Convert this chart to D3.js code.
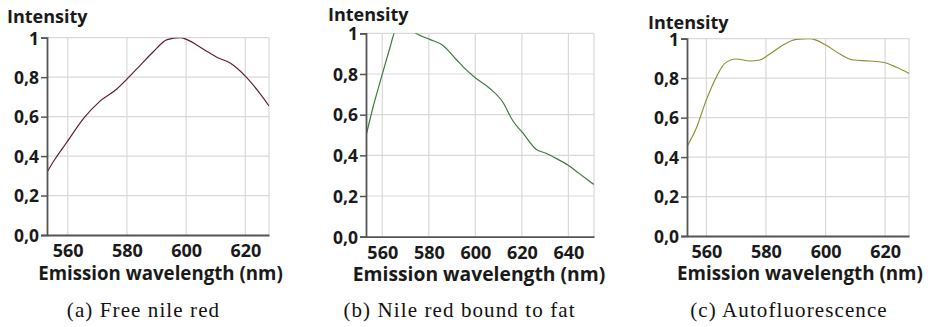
<!DOCTYPE html>
<html>
<head>
<meta charset="utf-8">
<script src="https://cdn.jsdelivr.net/npm/d3@7"></script>
<style>
  body { margin: 0; background: #fff; }
  svg { display: block; }
  .tick text { font-family: "Open Sans", sans-serif; font-weight: 700; fill: #1a1a1a; }
</style>
</head>
<body>
<div id="container"></div>
<script>
// Emission spectra
const wavelengthA = [553, 555.5, 559.7, 565.3, 571, 576.6, 580, 584.5, 589, 593.6, 598, 600.3, 606, 610.5, 615, 620, 624, 628];
const intensityA  = [0.318, 0.38, 0.47, 0.59, 0.68, 0.74, 0.79, 0.86, 0.93, 0.99, 1.0, 0.99, 0.94, 0.90, 0.87, 0.805, 0.735, 0.654];

const wavelengthB = [553, 556.1, 559.7, 563.3, 565.1, 569, 574.4, 580.4, 586.1, 591.9, 596.1, 600.1, 606.1, 611.9, 616.1, 620.4, 626.1, 630.4, 634.7, 640.1, 644.7, 650.9];
const intensityB  = [0.495, 0.64, 0.787, 0.93, 1.0, 1.05, 1.0, 0.97, 0.94, 0.87, 0.82, 0.78, 0.73, 0.66, 0.57, 0.51, 0.43, 0.41, 0.385, 0.35, 0.31, 0.257];

const wavelengthC = [553.5, 556.6, 560, 563.4, 566.2, 570.1, 574.6, 577.9, 581.3, 585.7, 590.2, 594.7, 600.1, 604.8, 609.3, 614.9, 620, 623.8, 628];
const intensityC  = [0.453, 0.546, 0.69, 0.807, 0.875, 0.897, 0.887, 0.892, 0.922, 0.968, 0.997, 1.0, 0.968, 0.922, 0.892, 0.887, 0.878, 0.855, 0.824];

const yTickValues = [0, 0.2, 0.4, 0.6, 0.8, 1];
const yTickLabels = ["0,0", "0,2", "0,4", "0,6", "0,8", "1"];
const xTicksAC = [560, 580, 600, 620];
const xTicksB = [560, 580, 600, 620, 640];

const captions = ["(a) Free nile red", "(b) Nile red bound to fat", "(c) Autofluorescence"];

const panels = [
  {x: wavelengthA, y: intensityA, ticks: xTicksAC, domain: [553, 628], color: "#5e2030",
   left: 47, right: 269, top: 37.7, bottom: 235, caption: captions[0], capX: 143.5,
   titleX: 7, titleY: 22.5, xlabX: 160.5, xlabY: 280, xlabSize: 18.7},
  {x: wavelengthB, y: intensityB, ticks: xTicksB, domain: [553, 651], color: "#3f7a3f",
   left: 366, right: 594, top: 33.3, bottom: 236.7, caption: captions[1], capX: 459.5,
   titleX: 328, titleY: 21, xlabX: 479, xlabY: 281, xlabSize: 19.3},
  {x: wavelengthC, y: intensityC, ticks: xTicksAC, domain: [553.5, 628], color: "#8f8f35",
   left: 687, right: 909, top: 38.7, bottom: 236, caption: captions[2], capX: 789,
   titleX: 648, titleY: 28.5, xlabX: 800, xlabY: 280, xlabSize: 18.8}
];

const width = 928;
const height = 327;

const svg = d3.create("svg")
    .attr("width", width)
    .attr("height", height)
    .attr("viewBox", [0, 0, width, height]);

panels.forEach((p, i) => {
  const x = d3.scaleLinear().domain(p.domain).range([p.left, p.right]);
  const y = d3.scaleLinear().domain([0, 1]).range([p.bottom, p.top]);
  const g = svg.append("g");

  // grid
  g.append("g")
    .attr("stroke", "#d9d9d9")
    .attr("stroke-width", 1.2)
    .call(s => s.selectAll(".h").data(yTickValues.slice(1)).join("line")
      .attr("x1", p.left).attr("x2", p.right)
      .attr("y1", d => y(d)).attr("y2", d => y(d)))
    .call(s => s.selectAll(".v").data(p.ticks).join("line")
      .attr("x1", d => x(d)).attr("x2", d => x(d))
      .attr("y1", p.top).attr("y2", p.bottom))
    .call(s => s.append("line")
      .attr("x1", p.right).attr("x2", p.right)
      .attr("y1", p.top).attr("y2", p.bottom));

  // curve, clipped to the plot area
  const clipId = "clip" + i;
  svg.append("clipPath").attr("id", clipId)
    .append("rect")
    .attr("x", p.left).attr("y", p.top)
    .attr("width", p.right - p.left).attr("height", p.bottom - p.top);

  const line = d3.line()
    .x((d, j) => x(p.x[j]))
    .y(d => y(d))
    .curve(d3.curveMonotoneX);

  g.append("path")
    .datum(p.y)
    .attr("clip-path", `url(#${clipId})`)
    .attr("fill", "none")
    .attr("stroke", p.color)
    .attr("stroke-width", 1.2)
    .attr("d", line);

  // axes
  const yAxis = d3.axisLeft(y)
    .tickValues(yTickValues)
    .tickFormat((d, j) => yTickLabels[j])
    .tickSize(6)
    .tickPadding(2);
  g.append("g")
    .attr("transform", `translate(${p.left},0)`)
    .call(yAxis)
    .call(a => a.select(".domain").attr("stroke", "#555").attr("stroke-width", 1.8))
    .call(a => a.selectAll(".tick line").attr("stroke", "#555").attr("stroke-width", 1.5))
    .call(a => a.selectAll(".tick text").attr("font-size", 17.5).attr("dy", "0.36em"));

  const xAxis = d3.axisBottom(x)
    .tickValues(p.ticks)
    .tickSize(0)
    .tickPadding(9);
  g.append("g")
    .attr("transform", `translate(0,${p.bottom})`)
    .call(xAxis)
    .call(a => a.select(".domain").attr("stroke", "#555").attr("stroke-width", 1.8))
    .call(a => a.selectAll(".tick text").attr("font-size", 18).attr("dy", "0.72em"));

  // titles
  g.append("text")
    .attr("x", p.titleX)
    .attr("y", p.titleY)
    .attr("font-family", "Open Sans, sans-serif")
    .attr("font-weight", 700)
    .attr("font-size", 18)
    .attr("fill", "#1a1a1a")
    .text("Intensity");

  g.append("text")
    .attr("x", p.xlabX)
    .attr("y", p.xlabY)
    .attr("text-anchor", "middle")
    .attr("font-family", "Open Sans, sans-serif")
    .attr("font-weight", 700)
    .attr("font-size", p.xlabSize)
    .attr("fill", "#1a1a1a")
    .text("Emission wavelength (nm)");

  svg.append("text")
    .attr("x", p.capX)
    .attr("y", 317)
    .attr("text-anchor", "middle")
    .attr("font-family", "Liberation Serif, serif")
    .attr("font-size", 21)
    .attr("letter-spacing", 1.1)
    .attr("fill", "#111")
    .text(p.caption);
});

d3.select("#container").append(() => svg.node());
</script>
</body>
</html>
